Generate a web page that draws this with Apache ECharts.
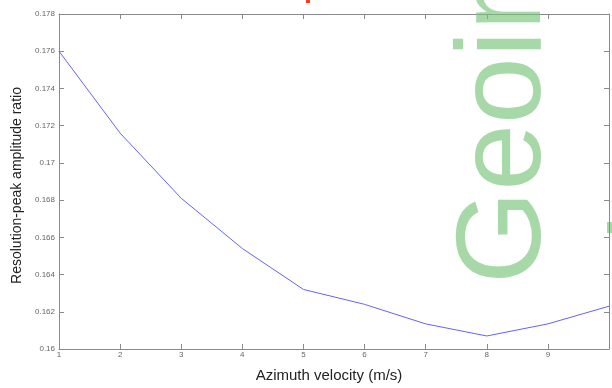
<!DOCTYPE html>
<html><head><meta charset="utf-8">
<script src="https://cdn.jsdelivr.net/npm/echarts@6/dist/echarts.min.js"></script>
<style>html,body{margin:0;padding:0;background:#fff}#c{width:612px;height:388px}</style>
</head><body><div id="c"></div>
<script>
var velocities = [1, 2, 3, 4, 5, 6, 7, 8, 9, 10];
var ratios = [0.1760, 0.1716, 0.1681, 0.1654, 0.1632, 0.1624, 0.16135, 0.1607, 0.16135, 0.1623];
var xTitle = 'Azimuth velocity (m/s)';
var yTitle = 'Resolution-peak amplitude ratio';
var watermark = 'Geoinformatics';

var chart = echarts.init(document.getElementById('c'), null, {renderer: 'canvas'});
var axisLine = {show: true, lineStyle: {color: '#8a8a8a', width: 1}};
var tick = {show: true, inside: true, length: 5, lineStyle: {color: '#8a8a8a'}};
var lbl = {color: '#666', fontSize: 8, fontFamily: 'Liberation Sans, Arial, sans-serif'};
chart.setOption({
  animation: false,
  grid: {left: 59, right: -3, top: 14, bottom: 34, containLabel: false},
  xAxis: [{
    type: 'value', min: 1, max: 10, interval: 1, position: 'bottom',
    axisLine: axisLine, axisTick: tick, splitLine: {show: false},
    axisLabel: Object.assign({margin: 2, formatter: function(v){return v >= 10 ? '' : String(v);}}, lbl),
    name: xTitle, nameLocation: 'middle', nameGap: 19,
    nameTextStyle: {color: '#222', fontSize: 15, fontFamily: 'Liberation Sans, Arial, sans-serif', padding: [0, 10, 0, 0]}
  }, {
    type: 'value', min: 1, max: 10, interval: 1, position: 'top',
    axisLine: axisLine, axisTick: tick, splitLine: {show: false}, axisLabel: {show: false}
  }],
  yAxis: [{
    type: 'value', min: 0.16, max: 0.178, interval: 0.002, position: 'left',
    axisLine: axisLine, axisTick: tick, splitLine: {show: false},
    axisLabel: Object.assign({margin: 4}, lbl),
    name: yTitle, nameLocation: 'middle', nameGap: 32,
    nameTextStyle: {color: '#222', fontSize: 14, fontFamily: 'Liberation Sans, Arial, sans-serif', padding: [0, 8, 0, 0]}
  }, {
    type: 'value', min: 0.16, max: 0.178, interval: 0.002, position: 'right',
    axisLine: axisLine, axisTick: tick, splitLine: {show: false}, axisLabel: {show: false}
  }],
  series: [{
    type: 'line', xAxisIndex: 0, yAxisIndex: 0,
    data: velocities.map(function(v, i){ return [v, ratios[i]]; }),
    symbol: 'none', lineStyle: {color: '#6262ff', width: 1}, z: 3
  }],
  graphic: [{
    type: 'text', x: 507, y: 284, rotation: Math.PI / 2, z: 10,
    style: {text: watermark, fill: 'rgba(120,195,120,0.65)', font: '120px "Liberation Sans", Arial, sans-serif',
            textAlign: 'left', textVerticalAlign: 'middle'}
  }, {
    type: 'rect', shape: {x: 306, y: 0, width: 4, height: 3}, style: {fill: '#ff3b1f'}
  }, {
    type: 'rect', shape: {x: 607, y: 222, width: 5, height: 11}, style: {fill: 'rgba(120,195,120,0.65)'}
  }]
});
</script></body></html>
